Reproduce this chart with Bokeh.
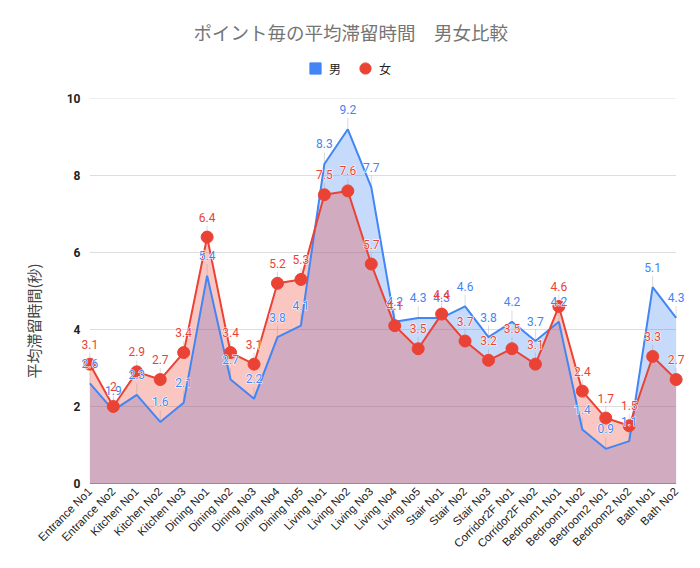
import math
from bokeh.plotting import figure
from bokeh.layouts import column
from bokeh.models import ColumnDataSource, Legend, LegendItem, FixedTicker, Range1d
from bokeh.core.properties import value
from bokeh.embed import file_html
from bokeh.resources import INLINE

categories = ["Entrance No1", "Entrance No2", "Kitchen No1", "Kitchen No2", "Kitchen No3",
              "Dining No1", "Dining No2", "Dining No3", "Dining No4", "Dining No5",
              "Living No1", "Living No2", "Living No3", "Living No4", "Living No5",
              "Stair No1", "Stair No2", "Stair No3", "Corridor2F No1", "Corridor2F No2",
              "Bedroom1 No1", "Bedroom1 No2", "Bedroom2 No1", "Bedroom2 No2", "Bath No1", "Bath No2"]
male = [2.6, 1.9, 2.3, 1.6, 2.1, 5.4, 2.7, 2.2, 3.8, 4.1, 8.3, 9.2, 7.7, 4.2, 4.3,
        4.3, 4.6, 3.8, 4.2, 3.7, 4.2, 1.4, 0.9, 1.1, 5.1, 4.3]
female = [3.1, 2.0, 2.9, 2.7, 3.4, 6.4, 3.4, 3.1, 5.2, 5.3, 7.5, 7.6, 5.7, 4.1, 3.5,
          4.4, 3.7, 3.2, 3.5, 3.1, 4.6, 2.4, 1.7, 1.5, 3.3, 2.7]
y_ticks = [0, 2, 4, 6, 8, 10]

title_text = "ポイント毎の平均滞留時間　男女比較"
y_label = "平均滞留時間(秒)"
series_names = ["男", "女"]

BLUE = "#4285F4"
RED = "#EA4335"

xs = list(range(len(categories)))
male_lbl = [("%g" % v) for v in male]
female_lbl = [("%g" % v) for v in female]
STEM = 0.3  # stem length of the value labels, in data units

src = ColumnDataSource(dict(x=xs, male=male, female=female, ml=male_lbl, fl=female_lbl,
                            zero=[0] * len(xs),
                            male_top=[v + STEM for v in male],
                            female_top=[v + STEM for v in female]))

# ---------- header: title + legend ----------
head = figure(frame_width=700, frame_height=48, output_backend="svg", toolbar_location=None,
              x_range=Range1d(0, 1), y_range=Range1d(0, 1),
              x_axis_location=None, y_axis_location=None,
              min_border_left=0, min_border_right=0, min_border_top=44, min_border_bottom=0)
head.outline_line_color = None
head.grid.visible = False
head.title.text = title_text
head.title.text_font = "Noto Sans CJK JP"
head.title.text_font_size = "18.5px"
head.title.text_font_style = "normal"
head.title.text_color = "#757575"
head.title.align = "left"
head.title.offset = 113
head.title.standoff = 0

# legend swatches only (NaN points are never drawn)
sq = head.scatter(x=[float("nan")], y=[float("nan")], marker="square", size=12,
                  fill_color=BLUE, line_color=BLUE)
cr = head.scatter(x=[float("nan")], y=[float("nan")], marker="circle", size=12,
                  fill_color=RED, line_color=RED)
legend = Legend(items=[LegendItem(label=series_names[0], renderers=[sq]),
                       LegendItem(label=series_names[1], renderers=[cr])],
                orientation="horizontal", location="center")
legend.border_line_color = None
legend.background_fill_alpha = 0
legend.label_text_font = "Noto Sans CJK JP"
legend.label_text_font_size = "12px"
legend.label_text_color = "#222222"
legend.glyph_width = 28
legend.glyph_height = 28
legend.label_height = 16
legend.label_standoff = 0
legend.padding = 0
legend.margin = 0
legend.spacing = 2
head.add_layout(legend, "center")

# ---------- main chart ----------
n = len(categories)
p = figure(frame_width=605, frame_height=385, output_backend="svg", toolbar_location=None,
           x_range=Range1d(-0.4, n - 1 + 0.4), y_range=Range1d(0, 10),
           min_border_left=80, min_border_right=15, min_border_top=6, min_border_bottom=77)
p.outline_line_color = None
p.background_fill_color = "white"

# horizontal gridlines across the category span, and the baseline
p.segment(x0=xs[0], x1=xs[-1], y0=y_ticks[1:], y1=y_ticks[1:], line_color="#dddddd", line_width=1)

p.varea(x="x", y1="zero", y2="male", source=src, fill_color=BLUE, fill_alpha=0.3)
p.varea(x="x", y1="zero", y2="female", source=src, fill_color=RED, fill_alpha=0.3)
p.segment(x0="x", x1="x", y0="male", y1="male_top", source=src, line_color="#999999", line_alpha=0.35)
p.segment(x0="x", x1="x", y0="female", y1="female_top", source=src, line_color="#999999", line_alpha=0.35)
p.segment(x0=xs[0], x1=xs[-1], y0=y_ticks[0], y1=y_ticks[0], line_color="#333333", line_width=1.2)
p.line(x="x", y="male", source=src, line_color=BLUE, line_width=2)
p.line(x="x", y="female", source=src, line_color=RED, line_width=2)
p.scatter(x="x", y="female", source=src, size=12, marker="circle",
          fill_color=RED, line_color=RED)

lab_kw = dict(text_font=value("Roboto"), text_font_size="12px", text_align="center",
              text_baseline="middle", y_offset=-20, source=src)
# white halo underneath, coloured text on top
p.text(x="x", y="male", text="ml", text_color="white", text_outline_color="white", **lab_kw)
p.text(x="x", y="female", text="fl", text_color="white", text_outline_color="white", **lab_kw)
p.text(x="x", y="male", text="ml", text_color=BLUE, **lab_kw)
p.text(x="x", y="female", text="fl", text_color=RED, **lab_kw)

p.yaxis.ticker = FixedTicker(ticks=y_ticks)
p.yaxis.axis_line_color = None
p.yaxis.major_tick_line_color = None
p.yaxis.minor_tick_line_color = None
p.yaxis.major_tick_out = 0
p.yaxis.major_label_standoff = 0
p.yaxis.major_label_text_font = "Roboto"
p.yaxis.major_label_text_font_style = "bold"
p.yaxis.major_label_text_font_size = "12px"
p.yaxis.major_label_text_color = "#222222"
p.yaxis.axis_label = y_label + "\u3000\u3000\u3000\u3000"
p.yaxis.axis_label_text_font = "Noto Sans CJK JP"
p.yaxis.axis_label_text_font_size = "15px"
p.yaxis.axis_label_text_font_style = "normal"
p.yaxis.axis_label_text_color = "#444444"
p.yaxis.axis_label_standoff = 20

p.xaxis.ticker = FixedTicker(ticks=xs)
p.xaxis.major_label_overrides = {i: c for i, c in enumerate(categories)}
p.xaxis.major_label_orientation = math.pi / 4
p.xaxis.axis_line_color = None
p.xaxis.major_tick_line_color = None
p.xaxis.minor_tick_line_color = None
p.xaxis.major_tick_out = 0
p.xaxis.major_label_standoff = 6
p.xaxis.major_label_text_font = "Liberation Sans"
p.xaxis.major_label_text_font_size = "11.5px"
p.xaxis.major_label_text_color = "#222222"

p.xgrid.grid_line_color = None
p.ygrid.grid_line_color = None

layout = column(head, p, spacing=0)
open("out.html", "w").write(file_html(layout, INLINE))
